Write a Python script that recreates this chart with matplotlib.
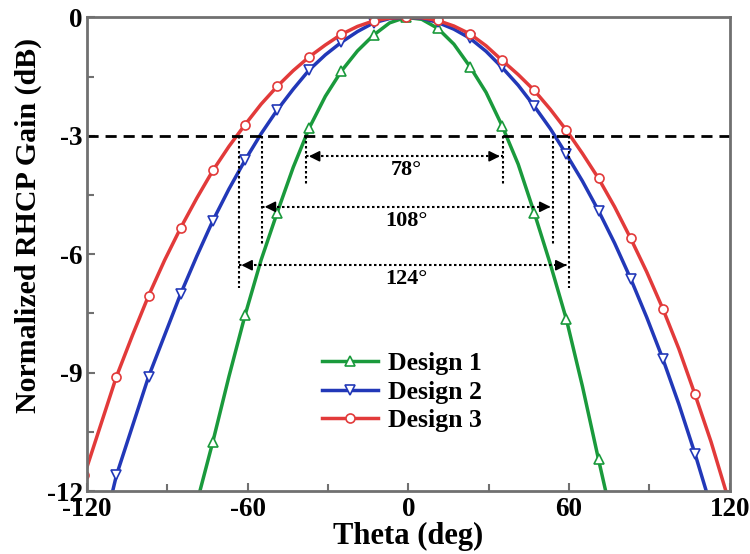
import matplotlib.pyplot as plt
import numpy as np

plt.rcParams['font.family'] = ['Liberation Serif', 'DejaVu Serif']
plt.rcParams['font.weight'] = 'bold'
plt.rcParams['axes.unicode_minus'] = False

# angle samples (deg); markers sit on every other sample
theta = [-121, -115, -109, -103, -97, -91, -85, -79, -73, -67, -61, -55, -49, -43,
         -37, -31, -25, -19, -13, -7, -1, 5, 11, 17, 23, 29, 35, 41, 47, 53, 59,
         65, 71, 77, 83, 89, 95, 101, 107, 113, 119, 125]

design1 = [-32, -29, -26, -23, -20, -17.2, -14.6, -12.3, -10.75, -9.1, -7.55, -6.15,
           -4.95, -3.8, -2.8, -2.0, -1.36, -0.85, -0.45, -0.14, 0.0,
           -0.05, -0.28, -0.68, -1.25, -1.9, -2.75, -3.72, -4.95, -6.25, -7.65,
           -9.35, -11.2, -13.0, -15.1, -17.4, -19.8, -22.3, -25, -27.8, -30.6, -33.5]
design2 = [-15.0, -13.3, -11.6, -10.35, -9.1, -8.05, -7.0, -6.05, -5.15, -4.35, -3.62,
           -2.95, -2.35, -1.82, -1.33, -0.95, -0.63, -0.36, -0.14, -0.03, 0.0,
           -0.02, -0.13, -0.3, -0.53, -0.86, -1.27, -1.72, -2.25, -2.82, -3.47,
           -4.15, -4.9, -5.72, -6.62, -7.6, -8.65, -9.8, -11.05, -12.4, -13.9, -15.4]
design3 = [-11.6, -10.35, -9.1, -8.05, -7.05, -6.15, -5.33, -4.58, -3.88, -3.27, -2.72,
           -2.2, -1.75, -1.35, -1.0, -0.7, -0.43, -0.23, -0.09, -0.02, 0.0,
           -0.01, -0.08, -0.22, -0.42, -0.72, -1.09, -1.45, -1.85, -2.33, -2.86,
           -3.45, -4.08, -4.8, -5.6, -6.45, -7.38, -8.4, -9.55, -10.75, -12.1, -13.5]

# -3 dB beam edges as marked in the figure
bw_labels = ['78°', '108°', '124°']
bw_left = [-38.2, -54.7, -63.4]
bw_right = [35.2, 54.1, 60.1]
bw_arrow_y = [-3.52, -4.8, -6.28]
bw_text_y = [-3.87, -5.15, -6.62]
bw_line_end = [-4.25, -5.8, -6.85]

fig = plt.figure(figsize=(7.5, 5.54), dpi=100)
ax = fig.add_axes([0.116, 0.1137, 0.857, 0.855])

ax.plot(theta, design1, color='#1a9a3c', lw=2.5, marker='^', ms=7, mfc='white',
        mec='#1a9a3c', mew=1.2, markevery=2, label='Design 1')
ax.plot(theta, design2, color='#2238b8', lw=2.5, marker='v', ms=7, mfc='white',
        mec='#2238b8', mew=1.2, markevery=2, label='Design 2')
ax.plot(theta, design3, color='#e23a3a', lw=2.5, marker='o', ms=6.5, mfc='white',
        mec='#e23a3a', mew=1.2, markevery=2, label='Design 3')

ax.axhline(-3, color='black', lw=2, dashes=(4, 2.5))

for lab, xl, xr, ya, yt, ye in zip(bw_labels, bw_left, bw_right, bw_arrow_y,
                                   bw_text_y, bw_line_end):
    ax.plot([xl, xl], [-3, ye], color='black', lw=1.5, ls=(0, (1.2, 1.2)))
    ax.plot([xr, xr], [-3, ye], color='black', lw=1.5, ls=(0, (1.2, 1.2)))
    ax.plot([xl, xr], [ya, ya], color='black', lw=1.5, ls=(0, (1.2, 1.2)))
    ax.annotate('', xy=(xl, ya), xytext=(xl + 4, ya),
                arrowprops=dict(arrowstyle='-|>', color='black', lw=1.2, mutation_scale=16))
    ax.annotate('', xy=(xr, ya), xytext=(xr - 4, ya),
                arrowprops=dict(arrowstyle='-|>', color='black', lw=1.2, mutation_scale=16))
    ax.text(-0.7, yt, lab, ha='center', va='center', fontsize=16, fontweight='bold')

ax.set_xlim(-120, 120)
ax.set_ylim(-12, 0)
ax.set_xticks([-120, -60, 0, 60, 120])
ax.set_xticks(np.arange(-120, 121, 30), minor=True)
ax.set_yticks([0, -3, -6, -9, -12])
ax.set_yticks(np.arange(-12, 0.1, 1.5), minor=True)
ax.tick_params(which='both', direction='in', color='#707070', width=1.5,
               labelsize=19.5, pad=3, top=False, right=False)
ax.tick_params(axis='x', which='both', pad=4.5)
ax.tick_params(which='major', length=6)
ax.tick_params(which='minor', length=5)
for s in ax.spines.values():
    s.set_color('#707070')
    s.set_linewidth(2)

ax.set_xlabel('Theta (deg)', fontsize=22, fontweight='bold', labelpad=0)
ax.set_ylabel('Normalized RHCP Gain (dB)', fontsize=21.5, fontweight='bold')
ax.yaxis.set_label_coords(-0.07, 0.56)

ax.legend(loc='center', bbox_to_anchor=(0.49, 0.209), frameon=False,
          handlelength=2.2, handletextpad=0.4, labelspacing=0.22,
          prop={'weight': 'bold', 'size': 18.5})

fig.savefig('out.png', dpi=100)
